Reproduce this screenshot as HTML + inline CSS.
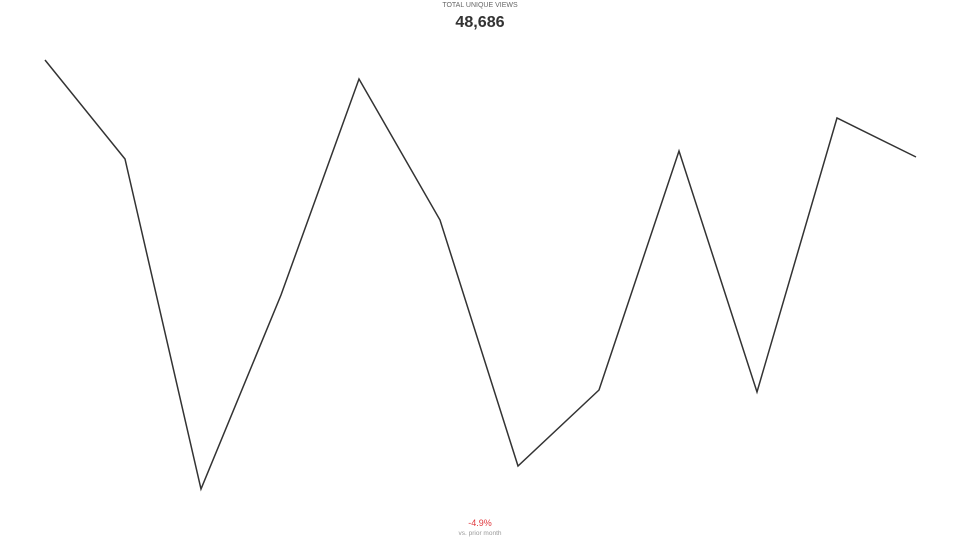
<!DOCTYPE html>
<html><head><meta charset="utf-8"><style>
html,body{margin:0;padding:0;background:#fff;width:960px;height:540px;overflow:hidden;font-family:"Liberation Sans",sans-serif}
.t{position:absolute;left:0;width:960px;text-align:center}
</style></head><body>
<div class="t" style="top:2px;font-size:7px;color:#666">TOTAL UNIQUE VIEWS</div>
<div class="t" style="top:13px;font-size:17px;color:#333;font-weight:bold;font-size-adjust:0.5">48,686</div>
<svg id="chart" width="960" height="540" style="position:absolute;left:0;top:0"></svg>
<div class="t" style="top:518px;font-size:9px;color:#e0393e">-4.9%</div>
<div class="t" style="top:530px;font-size:6.5px;color:#999">vs. prior month</div>
<script>
const categories=["M1","M2","M3","M4","M5","M6","M7","M8","M9","M10","M11","M12"];
const values=[4800,3810,510,2450,4610,3200,740,1500,3890,1480,4220,3830];
const xs=[45,125,201,281,359,440,518,599,679,757,837,916];
function x(i){return xs[i];}
function y(v){return 540-v/10;}
const svg=document.getElementById('chart');
const p=document.createElementNS('http://www.w3.org/2000/svg','polyline');
p.setAttribute('points',values.map((v,i)=>x(i)+','+y(v)).join(' '));
p.setAttribute('fill','none');p.setAttribute('stroke','#333');p.setAttribute('stroke-width','1.5');


svg.appendChild(p);
</script>
</body></html>
